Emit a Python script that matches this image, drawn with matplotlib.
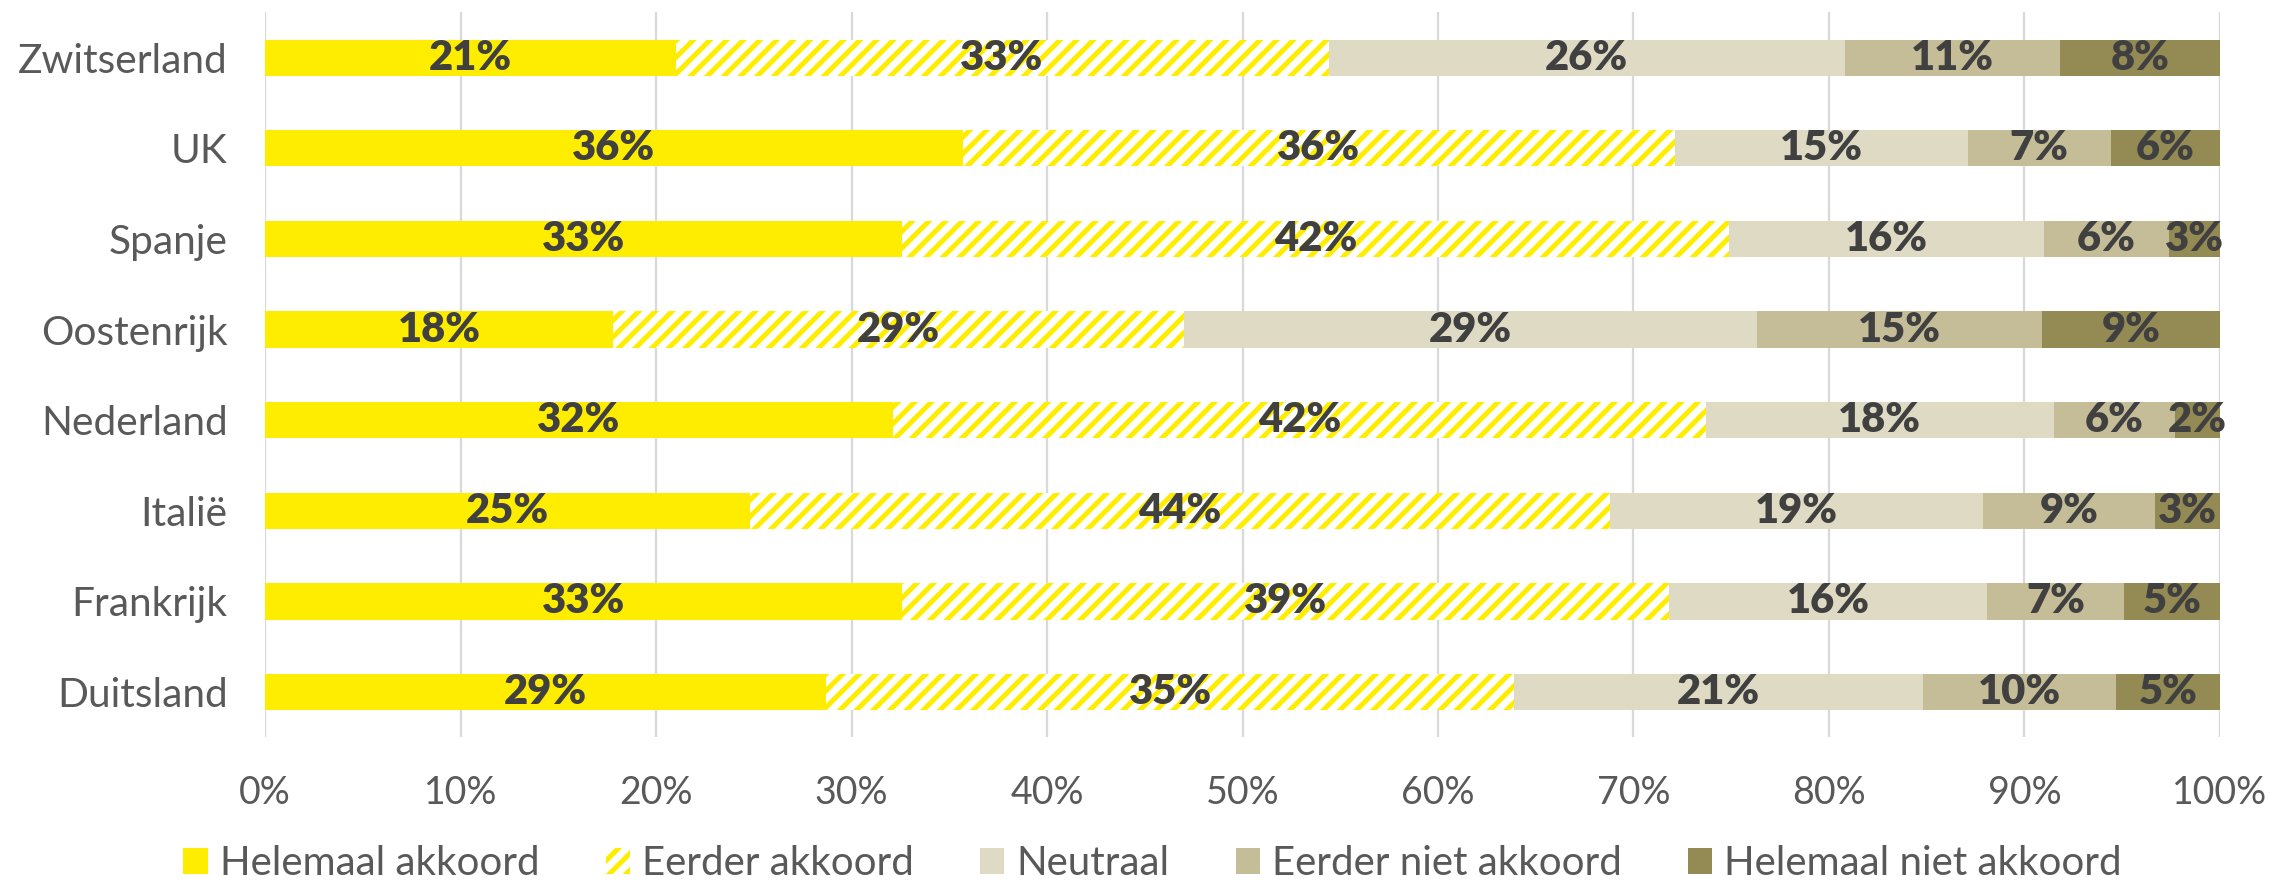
import matplotlib
matplotlib.use("Agg")
import matplotlib.pyplot as plt
import numpy as np
from matplotlib.patches import Patch

# ===============================
# DATA
# ===============================
countries = ["Zwitserland", "UK", "Spanje", "Oostenrijk",
             "Nederland", "Italië", "Frankrijk", "Duitsland"]

categories = ["Helemaal akkoord", "Eerder akkoord", "Neutraal",
              "Eerder niet akkoord", "Helemaal niet akkoord"]

helemaal_akkoord = [21.0, 35.7, 32.6, 17.8, 32.1, 24.8, 32.6, 28.7]
eerder_akkoord = [33.4, 36.4, 42.3, 29.2, 41.6, 44.0, 39.2, 35.2]
neutraal = [26.4, 15.0, 16.1, 29.3, 17.8, 19.1, 16.3, 20.9]
eerder_niet_akkoord = [11.0, 7.3, 6.4, 14.6, 6.2, 8.8, 7.0, 9.9]
helemaal_niet_akkoord = [8.2, 5.6, 2.6, 9.1, 2.3, 3.3, 4.9, 5.3]

xticks = [0, 10, 20, 30, 40, 50, 60, 70, 80, 90, 100]

# ===============================
# STYLE
# ===============================
YELLOW = "#FFED00"
colors = [YELLOW, YELLOW, "#DEDAC4", "#C5BD98", "#948A54"]
TEXT_GRAY = "#595959"
LABEL_DARK = "#404040"

plt.rcParams["font.family"] = ["Lato", "DejaVu Sans"]
plt.rcParams["hatch.linewidth"] = 2.4
plt.rcParams["hatch.color"] = YELLOW

DPI = 150
fig = plt.figure(figsize=(2269 / DPI, 883 / DPI), dpi=DPI)
ax = fig.add_axes([0.1168, 0.165, 0.9784 - 0.1168, 0.986 - 0.165])

series = [helemaal_akkoord, eerder_akkoord, neutraal,
          eerder_niet_akkoord, helemaal_niet_akkoord]

y = np.arange(len(countries))
left = np.zeros(len(countries))
bar_h = 0.40

for i, vals in enumerate(series):
    vals = np.array(vals)
    if i == 1:
        ax.barh(y, vals, left=left, height=bar_h, color="white",
                edgecolor=YELLOW, linewidth=0, hatch="///", zorder=2)
    else:
        ax.barh(y, vals, left=left, height=bar_h, color=colors[i],
                linewidth=0, zorder=2)
    for j, v in enumerate(vals):
        ax.text(left[j] + v / 2, y[j], f"{round(v):d}%", ha="center",
                va="center", fontsize=20, fontweight="heavy",
                color=LABEL_DARK, zorder=3)
    left += vals

ax.set_xlim(0, 100)
ax.set_ylim(len(countries) - 0.5, -0.5)
ax.set_yticks(y)
ax.set_yticklabels(countries, fontsize=19.5, color=TEXT_GRAY)
ax.set_xticks(xticks)
ax.set_xticklabels([f"{t}%" for t in xticks], fontsize=18, color=TEXT_GRAY)
ax.tick_params(axis="both", length=0)
ax.tick_params(axis="x", pad=18)
ax.tick_params(axis="y", pad=18)

for s in ax.spines.values():
    s.set_visible(False)

ax.grid(axis="x", color="#D9D9D9", linewidth=1.1, zorder=0)
ax.set_axisbelow(True)

# ===============================
# LEGEND
# ===============================
handles = []
for i, c in enumerate(categories):
    if i == 1:
        handles.append(Patch(facecolor="white", edgecolor=YELLOW,
                             linewidth=0, hatch="///", label=c))
    else:
        handles.append(Patch(facecolor=colors[i], linewidth=0, label=c))

leg = fig.legend(handles=handles, loc="lower center",
                 bbox_to_anchor=(0.508, -0.04), ncol=5, frameon=False,
                 fontsize=19.3, handlelength=0.6, handleheight=0.6,
                 handletextpad=0.3, columnspacing=1.65)
for t in leg.get_texts():
    t.set_color(TEXT_GRAY)

plt.savefig("out.png", dpi=DPI)
plt.close()
